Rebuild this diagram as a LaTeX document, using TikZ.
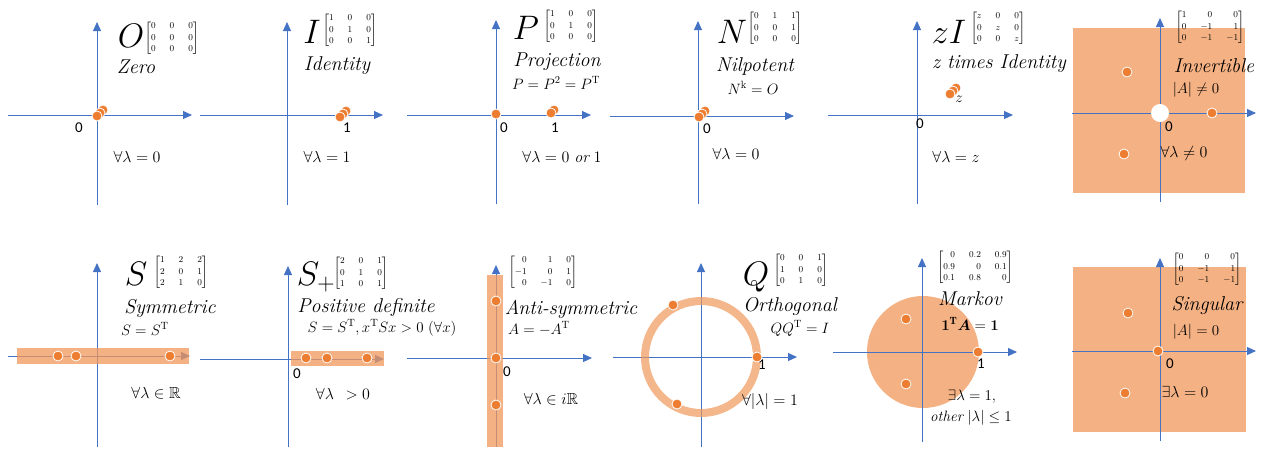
\RequirePackage{fix-cm}
\documentclass[tikz,border=0pt]{standalone}
\usepackage{amsmath,amssymb,mathtools}
\usepackage{fontspec}
\usepackage{xcolor}
\usepackage{tikz}
\usetikzlibrary{arrows.meta}
\newfontfamily\axfont{Carlito}
\definecolor{axblue}{HTML}{4472C4}
\definecolor{dotorange}{HTML}{ED7D31}
\definecolor{peach}{HTML}{F4B183}
\definecolor{bandfill}{RGB}{240,151,90}

\begin{document}
\begin{tikzpicture}[x=1pt, y=-1pt,
  axis/.style={axblue, line width=0.9pt, -{Triangle[length=9pt,width=8pt]}},
  dot/.style={circle, fill=dotorange, draw=white, line width=0.8pt,
              minimum size=10pt, inner sep=0pt},
  hole/.style={circle, fill=white, minimum size=18pt, inner sep=0pt},
  band/.style={fill=bandfill, fill opacity=0.75},
  letter/.style={font=\fontsize{34}{34}\selectfont, anchor=base, inner sep=0pt},
  mat/.style={font=\fontsize{9}{11.5}\selectfont\setlength{\arraycolsep}{7pt}, inner sep=0pt},
  kind/.style={font=\fontsize{20}{20}\selectfont\itshape, anchor=base, inner sep=0pt},
  rel/.style={font=\fontsize{15}{15}\selectfont, anchor=base, inner sep=0pt},
  eig/.style={font=\fontsize{16}{16}\selectfont, anchor=base, inner sep=0pt},
  tick/.style={font=\axfont\fontsize{15}{15}\selectfont, anchor=base, inner sep=0pt}
]
  \useasboundingbox (0,0) rectangle (1264,448);

  % Zero
  \coordinate (zeroLeft) at (8,115);   \coordinate (zeroRight) at (192,115);
  \coordinate (zeroBot) at (97,205);   \coordinate (zeroTop) at (97,22);
  \draw[axis] (zeroLeft) -- (zeroRight);
  \draw[axis] (zeroBot) -- (zeroTop);
  \node[letter] (zeroL) at (131,47) {$O$};
  \node[mat] (zeroM) at (172,38) {$\begin{bmatrix}0&0&0\\0&0&0\\0&0&0\end{bmatrix}$};
  \node[kind] (zeroN) at (136,73) {Zero};
  \node[tick] (zeroT) at (79,132) {0};
  \node[eig] (zeroE) at (137,162) {$\forall\lambda = 0$};
  \node[dot] (zeroD3) at (103,110) {};
  \node[dot] (zeroD2) at (100,113) {};
  \node[dot] (zeroD1) at (97,116) {};

  % Identity
  \coordinate (idenLeft) at (200,115); \coordinate (idenRight) at (383,115);
  \coordinate (idenBot) at (287,205);  \coordinate (idenTop) at (287,22);
  \draw[axis] (idenLeft) -- (idenRight);
  \draw[axis] (idenBot) -- (idenTop);
  \node[letter] (idenL) at (312,43) {$I$};
  \node[mat] (idenM) at (350,30) {$\begin{bmatrix}1&0&0\\0&1&0\\0&0&1\end{bmatrix}$};
  \node[kind] (idenN) at (337,70) {Identity};
  \node[tick] (idenT) at (347,132) {1};
  \node[eig] (idenE) at (327,162) {$\forall\lambda = 1$};
  \node[dot] (idenD3) at (346,111) {};
  \node[dot] (idenD2) at (343,114) {};
  \node[dot] (idenD1) at (340,117) {};

  % Projection
  \coordinate (projLeft) at (407,115); \coordinate (projRight) at (591,115);
  \coordinate (projBot) at (496,204);  \coordinate (projTop) at (496,20);
  \draw[axis] (projLeft) -- (projRight);
  \draw[axis] (projBot) -- (projTop);
  \node[letter] (projL) at (526,39) {$P$};
  \node[mat] (projM) at (571,26) {$\begin{bmatrix}1&0&0\\0&1&0\\0&0&0\end{bmatrix}$};
  \node[kind] (projN) at (557,66) {Projection};
  \node[rel] (projR) at (556,89) {$P = P^2 = P^{\mathrm{T}}$};
  \node[tick] (projT0) at (504,132) {0};
  \node[tick] (projT1) at (555,132) {1};
  \node[eig] (projE) at (562,162) {$\forall\lambda = 0\ \mathit{or}\ 1$};
  \node[dot] (projD0) at (496,114) {};
  \node[dot] (projD2) at (554,110) {};
  \node[dot] (projD1) at (551,113) {};

  % Nilpotent
  \coordinate (nilLeft) at (610,116);  \coordinate (nilRight) at (794,116);
  \coordinate (nilBot) at (698,204);   \coordinate (nilTop) at (698,21);
  \draw[axis] (nilLeft) -- (nilRight);
  \draw[axis] (nilBot) -- (nilTop);
  \node[letter] (nilL) at (732,43) {$N$};
  \node[mat] (nilM) at (775,28) {$\begin{bmatrix}0&1&1\\0&0&1\\0&0&0\end{bmatrix}$};
  \node[kind] (nilN) at (755,71) {Nilpotent};
  \node[rel] (nilR) at (753,94) {$N^{\mathrm{k}} = O$};
  \node[tick] (nilT) at (707,133) {0};
  \node[eig] (nilE) at (736,159) {$\forall\lambda = 0$};
  \node[dot] (nilD3) at (705,111) {};
  \node[dot] (nilD2) at (702,114) {};
  \node[dot] (nilD1) at (699,117) {};

  % z times Identity
  \coordinate (zidLeft) at (828,115);  \coordinate (zidRight) at (1013,115);
  \coordinate (zidBot) at (917,204);   \coordinate (zidTop) at (917,21);
  \draw[axis] (zidLeft) -- (zidRight);
  \draw[axis] (zidBot) -- (zidTop);
  \node[letter] (zidL) at (949,43) {$zI$};
  \node[mat] (zidM) at (998,28) {$\begin{bmatrix}z&0&0\\0&z&0\\0&0&z\end{bmatrix}$};
  \node[kind] (zidN) at (999,68) {z times Identity};
  \node[tick] (zidT) at (920,128) {0};
  \node[eig] (zidE) at (956,162) {$\forall\lambda = z$};
  \node[dot] (zidD3) at (956,88) {};
  \node[dot] (zidD2) at (953,91) {};
  \node[dot] (zidD1) at (950,94) {};
  \node[rel] (zidZ) at (959,102) {$z$};

  % Invertible
  \fill[peach] (1073,28) rectangle (1245,193);
  \coordinate (invLeft) at (1072,113); \coordinate (invRight) at (1256,113);
  \coordinate (invBot) at (1160,202);  \coordinate (invTop) at (1160,18);
  \draw[axis] (invLeft) -- (invRight);
  \draw[axis] (invBot) -- (invTop);
  \node[mat] (invM) at (1210,27) {$\begin{bmatrix*}[r]1&0&0\\0&-1&1\\0&-1&-1\end{bmatrix*}$};
  \node[kind] (invN) at (1214,72) {Invertible};
  \node[rel] (invR) at (1196,93) {$|A| \neq 0$};
  \node[hole] (invH) at (1160,113) {};
  \node[tick] (invT) at (1169,131) {0};
  \node[eig] (invE) at (1184,157) {$\forall\lambda \neq 0$};
  \node[dot] (invD1) at (1127,72) {};
  \node[dot] (invD2) at (1212,113) {};
  \node[dot] (invD3) at (1124,154) {};

  % Symmetric
  \coordinate (symLeft) at (8,356);    \coordinate (symRight) at (190,356);
  \coordinate (symBot) at (97,447);    \coordinate (symTop) at (97,263);
  \draw[axis] (symLeft) -- (symRight);
  \draw[axis] (symBot) -- (symTop);
  \fill[band] (17,348) rectangle (189,364);
  \node[letter] (symL) at (136,285) {$S$};
  \node[mat] (symM) at (181,272) {$\begin{bmatrix}1&2&2\\2&0&1\\2&1&0\end{bmatrix}$};
  \node[kind] (symN) at (170,313) {Symmetric};
  \node[rel] (symR) at (145,335) {$S = S^{\mathrm{T}}$};
  \node[eig] (symE) at (156,398) {$\forall\lambda \in \mathbb{R}$};
  \node[dot] (symD1) at (58,356) {};
  \node[dot] (symD2) at (76,356) {};
  \node[dot] (symD3) at (170,356) {};

  % Positive definite
  \coordinate (posLeft) at (200,359);  \coordinate (posRight) at (384,359);
  \coordinate (posBot) at (288,447);   \coordinate (posTop) at (288,266);
  \draw[axis] (posLeft) -- (posRight);
  \draw[axis] (posBot) -- (posTop);
  \node[tick] (posT) at (297,378) {0};
  \fill[band] (291,351) rectangle (384,366);
  \node[letter] (posL) at (316,285) {$S_+$};
  \node[mat] (posM) at (361,273) {$\begin{bmatrix}2&0&1\\0&1&0\\1&0&1\end{bmatrix}$};
  \node[kind] (posN) at (366,312) {Positive definite};
  \node[rel] (posR) at (382,332) {$S = S^{\mathrm{T}}, x^{\mathrm{T}}Sx > 0\ (\forall x)$};
  \node[eig] (posE) at (343,399) {$\forall\lambda\;\, > 0$};
  \node[dot] (posD1) at (306,358) {};
  \node[dot] (posD2) at (327,358) {};
  \node[dot] (posD3) at (367,358) {};

  % Anti-symmetric
  \coordinate (antiLeft) at (407,358); \coordinate (antiRight) at (592,358);
  \coordinate (antiBot) at (496,447);  \coordinate (antiTop) at (496,265);
  \draw[axis] (antiLeft) -- (antiRight);
  \draw[axis] (antiBot) -- (antiTop);
  \fill[band] (487,275) rectangle (503,447);
  \node[mat] (antiM) at (543,272) {$\begin{bmatrix*}[r]0&1&0\\-1&0&1\\0&-1&0\end{bmatrix*}$};
  \node[kind] (antiN) at (571,314) {Anti-symmetric};
  \node[rel] (antiR) at (539,334) {$A = -A^{\mathrm{T}}$};
  \node[tick] (antiT) at (507,376) {0};
  \node[eig] (antiE) at (551,404) {$\forall\lambda \in i\mathbb{R}$};
  \node[dot] (antiD1) at (496,301) {};
  \node[dot] (antiD2) at (496,358) {};
  \node[dot] (antiD3) at (496,405) {};

  % Orthogonal
  \coordinate (orthLeft) at (613,357); \coordinate (orthRight) at (797,357);
  \coordinate (orthBot) at (701,447);  \coordinate (orthTop) at (701,263);
  \draw[axis] (orthLeft) -- (orthRight);
  \draw[axis] (orthBot) -- (orthTop);
  \draw[bandfill, draw opacity=0.7, line width=8pt] (701,357) circle[radius=56];
  \node[letter] (orthL) at (756,285) {$Q$};
  \node[mat] (orthM) at (801,270) {$\begin{bmatrix}0&0&1\\1&0&0\\0&1&0\end{bmatrix}$};
  \node[kind] (orthN) at (790,311) {Orthogonal};
  \node[rel] (orthR) at (800,333) {$QQ^{\mathrm{T}} = I$};
  \node[tick] (orthT) at (762,369) {1};
  \node[eig] (orthE) at (770,405) {$\forall|\lambda| = 1$};
  \node[dot] (orthD1) at (673,305) {};
  \node[dot] (orthD2) at (757,357) {};
  \node[dot] (orthD3) at (677,404) {};

  % Markov
  \fill[peach] (923,352) circle[radius=56];
  \coordinate (markLeft) at (833,352); \coordinate (markRight) at (1017,352);
  \coordinate (markBot) at (922,442);  \coordinate (markTop) at (922,258);
  \draw[axis] (markLeft) -- (markRight);
  \draw[axis] (markBot) -- (markTop);
  \node[mat] (markM) at (975,267) {$\begin{bmatrix*}[r]0&0.2&0.9\\0.9&0&0.1\\0.1&0.8&0\end{bmatrix*}$};
  \node[kind] (markN) at (970,305) {Markov};
  \node[rel] (markR) at (970,330) {$\boldsymbol{1}^{\mathbf{T}}\boldsymbol{A} = \boldsymbol{1}$};
  \node[tick] (markT) at (981,368) {1};
  \node[rel] (markE) at (972,400) {$\exists\lambda = 1,$};
  \node[rel] (markF) at (971,421) {$\mathit{other}\ |\lambda| \le 1$};
  \node[dot] (markD1) at (906,319) {};
  \node[dot] (markD2) at (978,352) {};
  \node[dot] (markD3) at (906,384) {};

  % Singular
  \fill[peach] (1073,267) rectangle (1246,432);
  \coordinate (singLeft) at (1072,351); \coordinate (singRight) at (1256,351);
  \coordinate (singBot) at (1160,441);  \coordinate (singTop) at (1160,258);
  \draw[axis] (singLeft) -- (singRight);
  \draw[axis] (singBot) -- (singTop);
  \node[mat] (singM) at (1207,269) {$\begin{bmatrix*}[r]0&0&0\\0&-1&1\\0&-1&-1\end{bmatrix*}$};
  \node[kind] (singN) at (1207,310) {Singular};
  \node[rel] (singR) at (1196,335) {$|A| = 0$};
  \node[tick] (singT) at (1170,368) {0};
  \node[eig] (singE) at (1185,397) {$\exists\lambda = 0$};
  \node[dot] (singD1) at (1128,313) {};
  \node[dot] (singD2) at (1158,351) {};
  \node[dot] (singD3) at (1125,393) {};
\end{tikzpicture}
\end{document}
